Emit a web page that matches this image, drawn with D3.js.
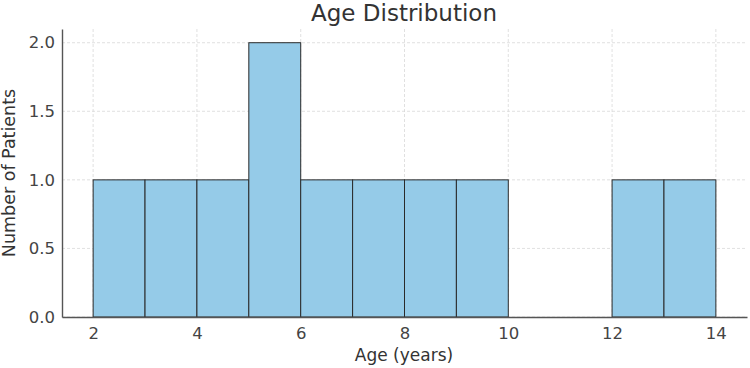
<!DOCTYPE html>
<html><head><meta charset="utf-8">
<script src="https://cdn.jsdelivr.net/npm/d3@7"></script>
<style>body{margin:0;background:#fff;}svg{display:block;font-family:"DejaVu Sans",sans-serif;}</style>
</head><body><svg id="c" width="750" height="368"></svg>
<script>
const binStarts = [2,3,4,5,6,7,8,9,10,11,12,13];
const binWidth = 1;
const counts = [1,1,1,2,1,1,1,1,0,0,1,1];
const xTicks = [2,4,6,8,10,12,14];
const yTicks = [0.0,0.5,1.0,1.5,2.0];

const svg = d3.select("#c");
const L=62, R=747, T=29, B=317;
const x = d3.scaleLinear().domain([1.4,14.6]).range([L,R]);
const y = d3.scaleLinear().domain([0,2.1]).range([B,T]);

// grid
const g = svg.append("g");
g.selectAll(".vg").data(xTicks).join("line")
 .attr("x1",d=>x(d)).attr("x2",d=>x(d)).attr("y1",B).attr("y2",T)
 .attr("stroke","#d8d8d8").attr("stroke-width",0.8).attr("stroke-dasharray","3,2");
g.selectAll(".hg").data(yTicks).join("line")
 .attr("x1",L).attr("x2",R).attr("y1",d=>y(d)).attr("y2",d=>y(d))
 .attr("stroke","#d8d8d8").attr("stroke-width",0.8).attr("stroke-dasharray","3,2");

// bars
svg.append("g").selectAll("rect").data(binStarts.map((s,i)=>({s,c:counts[i]})).filter(d=>d.c>0)).join("rect")
 .attr("x",d=>x(d.s)).attr("width",d=>x(d.s+binWidth)-x(d.s))
 .attr("y",d=>y(d.c)).attr("height",d=>y(0)-y(d.c))
 .attr("fill","#95cbe8").attr("stroke","#2a2a2a").attr("stroke-width",1);

// axes
const xa = svg.append("g").attr("transform",`translate(0,${B})`)
 .call(d3.axisBottom(x).tickValues(xTicks).tickSize(0).tickPadding(10).tickFormat(d3.format("d")));
const ya = svg.append("g").attr("transform",`translate(${L},0)`)
 .call(d3.axisLeft(y).tickValues(yTicks).tickSize(0).tickPadding(7).tickFormat(d3.format(".1f")));
[xa,ya].forEach(a=>{
 a.select(".domain").attr("stroke","#555").attr("stroke-width",1.4);
 a.selectAll("text").attr("fill","#444").style("font-size","16.5px").style("font-family","DejaVu Sans, sans-serif");
});

svg.append("text").attr("x",404).attr("y",21).attr("text-anchor","middle")
 .attr("fill","#333").style("font-size","23px").text("Age Distribution");
svg.append("text").attr("x",404).attr("y",361).attr("text-anchor","middle")
 .attr("fill","#333").style("font-size","17px").text("Age (years)");
svg.append("text").attr("transform","translate(15,173) rotate(-90)").attr("text-anchor","middle")
 .attr("fill","#333").style("font-size","17.5px").text("Number of Patients");
</script></body></html>
